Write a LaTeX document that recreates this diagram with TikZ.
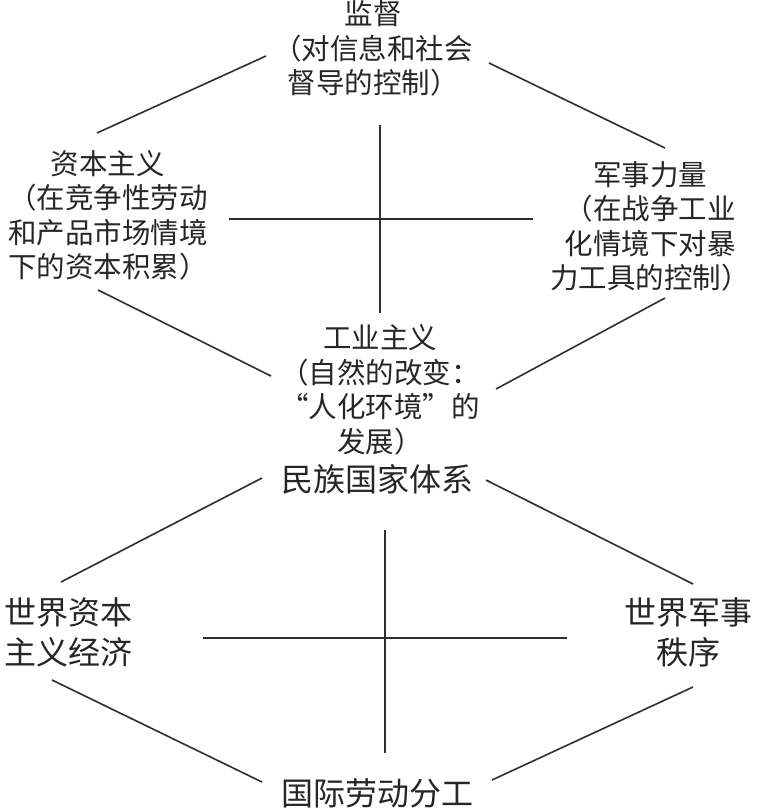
\documentclass[tikz,border=0pt]{standalone}
\usepackage{fontspec}
\setmainfont{Noto Sans CJK SC}
\begin{document}
\begin{tikzpicture}[x=1pt,y=-1pt]
\tikzset{
  lbl/.style={inner sep=0pt, font=\fontsize{28.5}{34.5}\selectfont, align=center, text=black!85},
  big/.style={inner sep=0pt, font=\fontsize{32}{40}\selectfont, align=center, text=black!85},
  conn/.style={line width=1.6pt, draw=black!82}
}
\useasboundingbox[fill=white] (0,0) rectangle (760,812);
% nodes
\node[lbl] (jd) at (373,48.5) {监督\\（对信息和社会\\督导的控制）};
\node[lbl] (zb) at (108,215.5) {资本主义\\（在竞争性劳动\\和产品市场情境\\下的资本积累）};
\node[lbl] (js) at (650,226.5) {军事力量\\（在战争工业\\化情境下对暴\\力工具的控制）};
\node[lbl] (gy) at (380,390) {工业主义\\（自然的改变：\\“人化环境”的\\发展）};
\node[big] (mz) at (377,479) {民族国家体系};
\node[big] (sj) at (69,632) {世界资本\\主义经济};
\node[big] (sjs) at (688,632) {世界军事\\秩序};
\node[big] (gj) at (377,793) {国际劳动分工};
% connector end points
\coordinate (jdL) at (266,56);  \coordinate (zbT) at (97,133);
\coordinate (jdR) at (489,63);  \coordinate (jsT) at (665,148);
\coordinate (jdB) at (380,125); \coordinate (gyT) at (380,313);
\coordinate (zbR) at (229,219); \coordinate (jsL) at (533,219);
\coordinate (zbB) at (98,290);  \coordinate (gyL) at (271,376);
\coordinate (jsB) at (665,298); \coordinate (gyR) at (496,389);
\coordinate (mzL) at (262,478); \coordinate (sjT) at (61,582);
\coordinate (mzR) at (486,480); \coordinate (sjsT) at (693,584);
\coordinate (mzB) at (385,530); \coordinate (gjT) at (385,753);
\coordinate (sjR) at (203,638); \coordinate (sjsL) at (567,638);
\coordinate (sjB) at (52,680);  \coordinate (gjL) at (262,782);
\coordinate (sjsB) at (693,687); \coordinate (gjR) at (492,780);
% connectors
\draw[conn] (jdL) -- (zbT);
\draw[conn] (jdR) -- (jsT);
\draw[conn] (jdB) -- (gyT);
\draw[conn] (zbR) -- (jsL);
\draw[conn] (zbB) -- (gyL);
\draw[conn] (jsB) -- (gyR);
\draw[conn] (mzL) -- (sjT);
\draw[conn] (mzR) -- (sjsT);
\draw[conn] (mzB) -- (gjT);
\draw[conn] (sjR) -- (sjsL);
\draw[conn] (sjB) -- (gjL);
\draw[conn] (sjsB) -- (gjR);
\end{tikzpicture}
\end{document}
